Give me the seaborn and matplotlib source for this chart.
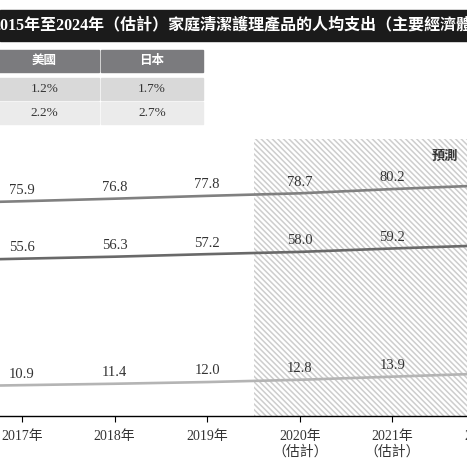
import pandas as pd
import seaborn as sns
import matplotlib.pyplot as plt
from matplotlib.patches import Rectangle

# 年份標籤（x 軸）
years = ['2015年', '2016年', '2017年', '2018年', '2019年',
         '2020年\n（估計）', '2021年\n（估計）', '2022年\n（估計）',
         '2023年\n（估計）', '2024年\n（估計）']

# 人均支出；2015、2016 及 2022-2024 在畫面外，按走勢估計
us_vals = [74.3, 75.1, 75.9, 76.8, 77.8, 78.7, 80.2, 81.5, 82.8, 84.1]
jp_vals = [54.2, 54.9, 55.6, 56.3, 57.2, 58.0, 59.2, 60.3, 61.5, 62.7]
cn_vals = [9.9, 10.4, 10.9, 11.4, 12.0, 12.8, 13.9, 15.0, 16.1, 17.3]

# 年複合增長率表
table_cols = ['美國', '日本']
cagr_hist = ['1.2%', '1.7%']
cagr_fcst = ['2.2%', '2.7%']

title = '2015年至2024年（估計）家庭清潔護理產品的人均支出（主要經濟體）'

sns.set_style('white')
plt.rcParams['font.family'] = ['Liberation Serif', 'Noto Sans CJK TC']
plt.rcParams['hatch.linewidth'] = 1.1

series = {'美國': us_vals, '日本': jp_vals, '中國': cn_vals}
df = pd.DataFrame([
    {'x': i, 'value': v, 'series': name}
    for name, vals in series.items() for i, v in enumerate(vals)
])
palette = {'美國': '#808080', '日本': '#696969', '中國': '#b4b4b4'}

W = 467
fig = plt.figure(figsize=(4.67, 4.67), dpi=100)

# 主圖（比畫面寬，左右被裁掉）
ax = fig.add_axes([-0.4486, 0.1092, 1.9829, 0.5938])
ax.axvspan(4.5, 9.5, facecolor='white', edgecolor='#cdcdcd',
           hatch='\\\\\\\\\\\\', linewidth=0, zorder=0)
sns.lineplot(data=df, x='x', y='value', hue='series', palette=palette,
             linewidth=1.9, legend=False, ax=ax, zorder=2)
ax.set_xlim(-0.5, 9.5)
ax.set_ylim(0, 98)


def px(i):
    return ax.transData.transform((i, 0))[0]


# 只標出畫面內的數值
for _, r in df.iterrows():
    if -10 < px(r['x']) < W + 10:
        ax.annotate(f"{r['value']:.1f}", (r['x'], r['value']), xytext=(0, 8),
                    textcoords='offset points', ha='center', va='center',
                    fontsize=10.5, color='#333333')

shown = [i for i in range(len(years)) if -25 < px(i) < W + 25]
ax.set_xticks(shown)
ax.set_xticklabels([years[i] for i in shown], fontsize=10, color='#333333')
ax.set_yticks([])
ax.tick_params(axis='x', bottom=True, direction='out', length=4, width=0.8,
               color='black', pad=6)
for s in ['top', 'left', 'right']:
    ax.spines[s].set_visible(False)
ax.spines['bottom'].set_color('black')
ax.spines['bottom'].set_linewidth(1)
ax.set_xlabel('')
ax.set_ylabel('')

# 標題列與表格（像素座標）
ov = fig.add_axes([0, 0, 1, 1])
ov.set_xlim(0, W)
ov.set_ylim(W, 0)
ov.axis('off')
ov.patch.set_alpha(0)

ov.add_patch(Rectangle((0, 10), W, 31, color='#1b1b1b'))
ov.text(-8, 25.5, title, color='white', fontsize=11.5, fontweight='bold',
        ha='left', va='center')

col_x = [(-10, 99), (101, 203)]
rows = [((50, 72), '#7b7b7e'), ((78, 99.5), '#d9d9d9'), ((101.5, 123.5), '#ebebeb')]
for j, (x0, x1) in enumerate(col_x):
    cells = [table_cols[j], cagr_hist[j], cagr_fcst[j]]
    for k, ((y0, y1), fc) in enumerate(rows):
        ov.add_patch(Rectangle((x0, y0), x1 - x0, y1 - y0, color=fc))
        if k == 0:
            ov.text((x0 + x1) / 2, (y0 + y1) / 2, cells[k], color='white',
                    fontsize=9, fontweight='bold', ha='center', va='center')
        else:
            ov.text((x0 + x1) / 2, (y0 + y1) / 2, cells[k], color='#333333',
                    fontsize=9.5, ha='center', va='center')

ov.text(445, 157, '預測', color='#333333', fontsize=9.5, fontweight='bold',
        style='italic', ha='center', va='center')

fig.savefig('out.png', dpi=100)
